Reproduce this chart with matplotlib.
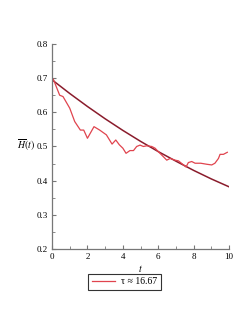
import matplotlib.pyplot as plt
import numpy as np
from matplotlib.ticker import MultipleLocator

plt.rcParams['font.family'] = ['Liberation Serif', 'DejaVu Serif']
plt.rcParams['mathtext.fontset'] = 'stix'

# smooth mean-field curve
t_smooth = [0, 1, 2, 3, 4, 5, 6, 7, 8, 9, 10]
h_smooth = [0.695, 0.655, 0.617, 0.581, 0.547, 0.515, 0.485, 0.457, 0.430, 0.405, 0.382]

# noisy simulation curve
t_sim = [0.0, 0.07, 0.43, 0.62, 1.0, 1.28, 1.6, 1.79, 2.0, 2.37, 2.69, 3.07, 3.39, 3.6,
         3.8, 4.0, 4.18, 4.4, 4.6, 4.78, 4.97, 5.16, 5.35, 5.63, 5.82, 6.0, 6.29, 6.48,
         6.67, 6.95, 7.14, 7.33, 7.57, 7.7, 7.89, 8.08, 8.4, 8.74, 9.02, 9.2, 9.4, 9.49,
         9.68, 9.9]
h_sim = [0.70, 0.697, 0.65, 0.646, 0.612, 0.573, 0.548, 0.548, 0.524, 0.558, 0.548, 0.534,
         0.507, 0.519, 0.505, 0.495, 0.48, 0.488, 0.488, 0.50, 0.504, 0.50, 0.502, 0.50,
         0.495, 0.485, 0.47, 0.46, 0.465, 0.46, 0.458, 0.45, 0.44, 0.453, 0.456, 0.451,
         0.451, 0.448, 0.446, 0.451, 0.465, 0.477, 0.477, 0.483]

fig = plt.figure(figsize=(2.49, 3.23), dpi=100)
ax = fig.add_axes([0.209, 0.229, 0.711, 0.635])

ax.plot(t_smooth, h_smooth, color='#8a1c2c', lw=1.1)
line, = ax.plot(t_sim, h_sim, color='#e0444e', lw=0.9)

ax.set_xlim(0, 10)
ax.set_ylim(0.2, 0.8)
ax.xaxis.set_major_locator(MultipleLocator(2))
ax.xaxis.set_minor_locator(MultipleLocator(1))
ax.yaxis.set_major_locator(MultipleLocator(0.1))
ax.yaxis.set_minor_locator(MultipleLocator(0.05))
ax.tick_params(which='both', direction='in', labelsize=6.5, color='#777777', pad=3)
ax.tick_params(which='major', length=3)
ax.tick_params(which='minor', length=2)
for s in ['top', 'right']:
    ax.spines[s].set_visible(False)
for s in ['left', 'bottom']:
    ax.spines[s].set_color('#777777')
    ax.spines[s].set_linewidth(0.9)

ax.set_xlabel('$t$', fontsize=7, labelpad=1)
ax.set_ylabel(r'$\overline{H}(t)$', fontsize=7, rotation=0)
ax.yaxis.set_label_coords(-0.15, 0.47)

leg = fig.legend([line], [r'τ ≈ 16.67'], loc='center', bbox_to_anchor=(0.5, 0.128),
                 fontsize=7, frameon=True, fancybox=False, edgecolor='black',
                 handlelength=2.4, borderpad=0.35, handletextpad=0.6)
leg.get_frame().set_linewidth(0.8)

fig.savefig('out.png', dpi=100)
